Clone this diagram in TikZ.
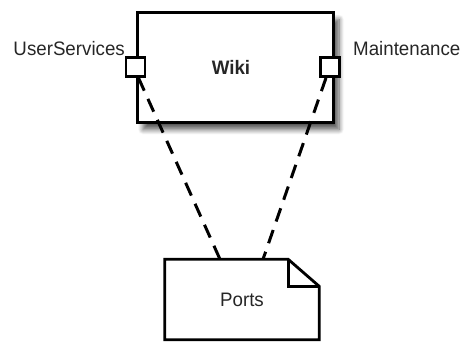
\documentclass[tikz,border=0pt]{standalone}
\usepackage{fontspec}
\setmainfont{Liberation Sans}[FakeStretch=0.96]
\usetikzlibrary{positioning,calc,shadows.blur}

\tikzset{
  comp/.style={draw, line width=3pt, fill=white, minimum width=196pt, minimum height=110pt,
    blur shadow={shadow xshift=6pt, shadow yshift=-7pt, shadow blur steps=8, shadow blur radius=5pt, shadow opacity=65}},
  portbox/.style={draw, line width=2.8pt, fill=white, minimum size=19pt, inner sep=0pt},
  lbl/.style={font=\fontsize{19.5}{22}\selectfont, inner sep=1pt, text=black!85},
  link/.style={line width=3pt, dash pattern=on 14pt off 9pt}
}

\begin{document}
\begin{tikzpicture}[x=1pt,y=-1pt]
\useasboundingbox (0,0) rectangle (467,341);

% component and its ports
\node[comp] (wiki) at (235,67.5) {};
\node[lbl, font=\fontsize{19.5}{22}\selectfont\bfseries] (wikiname) at (231,67) {Wiki};
\node[portbox] (usport) at (wiki.west |- 0,67) {};
\node[portbox] (mport) at (330,67) {};
\node[lbl, anchor=base east] (uslbl) at (126,55) {UserServices};
\node[lbl, anchor=base west] (mlbl) at (352,55) {Maintenance};

% document
\node[minimum width=154pt, minimum height=80pt, inner sep=0pt] (doc) at (242,299.5) {};
\node[lbl] (docname) at (doc.center) {Ports};
\draw[line width=2.8pt, line join=miter]
  (doc.south west) -- (doc.north west) -- ([xshift=-31pt]doc.north east)
  -- ([yshift=-27pt]doc.north east) -- (doc.south east) -- cycle;
\draw[line width=2.8pt, line join=miter]
  ([xshift=-31pt]doc.north east) -- ([xshift=-31pt,yshift=-27pt]doc.north east)
  -- ([yshift=-27pt]doc.north east);

% dependencies
\coordinate (docl) at ([xshift=-22pt]doc.north);
\coordinate (docr) at ([xshift=21pt]doc.north);
\draw[link] ([xshift=3pt]usport.south) -- (docl);
\draw[link] ([xshift=-4pt]mport.south) -- (docr);
\end{tikzpicture}
\end{document}
